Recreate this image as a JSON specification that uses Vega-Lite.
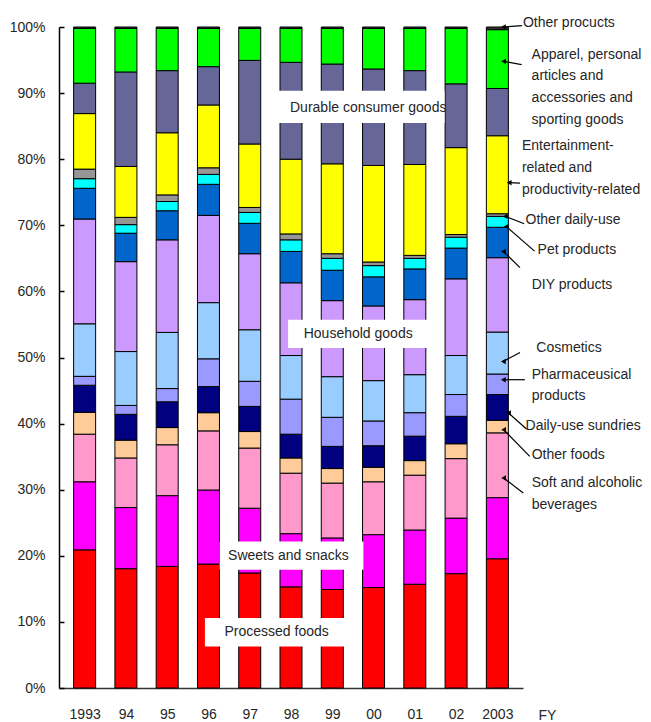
{
  "$schema": "https://vega.github.io/schema/vega-lite/v6.json",
  "width": 464,
  "height": 661,
  "autosize": {"type": "none"},
  "padding": {"left": 59, "top": 27, "right": 128, "bottom": 34},
  "background": "white",
  "config": {"view": {"stroke": null}, "font": "Liberation Sans"},
  "datasets": {
    "categories": [
      {"category":"Processed foods","rank":1},{"category":"Sweets and snacks","rank":2},{"category":"Soft and alcoholic beverages","rank":3},{"category":"Other foods","rank":4},{"category":"Daily-use sundries","rank":5},{"category":"Pharmaceutical products","rank":6},{"category":"Cosmetics","rank":7},{"category":"Household goods","rank":8},{"category":"DIY products","rank":9},{"category":"Pet products","rank":10},{"category":"Other daily-use","rank":11},{"category":"Entertainment- and productivity-related","rank":12},{"category":"Durable consumer goods","rank":13},{"category":"Apparel, personal articles, accessories and sporting goods","rank":14},{"category":"Other products","rank":15}
    ],
    "shares": [
      {"year":1993,"category":"Processed foods","share":20.9},{"year":1993,"category":"Sweets and snacks","share":10.3},{"year":1993,"category":"Soft and alcoholic beverages","share":7.2},{"year":1993,"category":"Other foods","share":3.3},{"year":1993,"category":"Daily-use sundries","share":4.1},{"year":1993,"category":"Pharmaceutical products","share":1.35},{"year":1993,"category":"Cosmetics","share":7.95},{"year":1993,"category":"Household goods","share":15.85},{"year":1993,"category":"DIY products","share":4.65},{"year":1993,"category":"Pet products","share":1.45},{"year":1993,"category":"Other daily-use","share":1.45},{"year":1993,"category":"Entertainment- and productivity-related","share":8.4},{"year":1993,"category":"Durable consumer goods","share":4.6},{"year":1993,"category":"Apparel, personal articles, accessories and sporting goods","share":8.3},{"year":1993,"category":"Other products","share":0.2},
      {"year":1994,"category":"Processed foods","share":18.05},{"year":1994,"category":"Sweets and snacks","share":9.25},{"year":1994,"category":"Soft and alcoholic beverages","share":7.5},{"year":1994,"category":"Other foods","share":2.7},{"year":1994,"category":"Daily-use sundries","share":3.9},{"year":1994,"category":"Pharmaceutical products","share":1.35},{"year":1994,"category":"Cosmetics","share":8.15},{"year":1994,"category":"Household goods","share":13.6},{"year":1994,"category":"DIY products","share":4.3},{"year":1994,"category":"Pet products","share":1.3},{"year":1994,"category":"Other daily-use","share":1.1},{"year":1994,"category":"Entertainment- and productivity-related","share":7.7},{"year":1994,"category":"Durable consumer goods","share":14.3},{"year":1994,"category":"Apparel, personal articles, accessories and sporting goods","share":6.6},{"year":1994,"category":"Other products","share":0.2},
      {"year":1995,"category":"Processed foods","share":18.4},{"year":1995,"category":"Sweets and snacks","share":10.7},{"year":1995,"category":"Soft and alcoholic beverages","share":7.7},{"year":1995,"category":"Other foods","share":2.6},{"year":1995,"category":"Daily-use sundries","share":3.9},{"year":1995,"category":"Pharmaceutical products","share":2.0},{"year":1995,"category":"Cosmetics","share":8.5},{"year":1995,"category":"Household goods","share":14.0},{"year":1995,"category":"DIY products","share":4.4},{"year":1995,"category":"Pet products","share":1.4},{"year":1995,"category":"Other daily-use","share":1.0},{"year":1995,"category":"Entertainment- and productivity-related","share":9.4},{"year":1995,"category":"Durable consumer goods","share":9.4},{"year":1995,"category":"Apparel, personal articles, accessories and sporting goods","share":6.4},{"year":1995,"category":"Other products","share":0.2},
      {"year":1996,"category":"Processed foods","share":18.75},{"year":1996,"category":"Sweets and snacks","share":11.2},{"year":1996,"category":"Soft and alcoholic beverages","share":8.95},{"year":1996,"category":"Other foods","share":2.75},{"year":1996,"category":"Daily-use sundries","share":3.95},{"year":1996,"category":"Pharmaceutical products","share":4.2},{"year":1996,"category":"Cosmetics","share":8.5},{"year":1996,"category":"Household goods","share":13.2},{"year":1996,"category":"DIY products","share":4.7},{"year":1996,"category":"Pet products","share":1.5},{"year":1996,"category":"Other daily-use","share":1.0},{"year":1996,"category":"Entertainment- and productivity-related","share":9.5},{"year":1996,"category":"Durable consumer goods","share":5.8},{"year":1996,"category":"Apparel, personal articles, accessories and sporting goods","share":5.8},{"year":1996,"category":"Other products","share":0.2},
      {"year":1997,"category":"Processed foods","share":17.4},{"year":1997,"category":"Sweets and snacks","share":9.8},{"year":1997,"category":"Soft and alcoholic beverages","share":9.1},{"year":1997,"category":"Other foods","share":2.5},{"year":1997,"category":"Daily-use sundries","share":3.8},{"year":1997,"category":"Pharmaceutical products","share":3.8},{"year":1997,"category":"Cosmetics","share":7.8},{"year":1997,"category":"Household goods","share":11.5},{"year":1997,"category":"DIY products","share":4.6},{"year":1997,"category":"Pet products","share":1.65},{"year":1997,"category":"Other daily-use","share":0.75},{"year":1997,"category":"Entertainment- and productivity-related","share":9.6},{"year":1997,"category":"Durable consumer goods","share":12.65},{"year":1997,"category":"Apparel, personal articles, accessories and sporting goods","share":4.85},{"year":1997,"category":"Other products","share":0.2},
      {"year":1998,"category":"Processed foods","share":15.3},{"year":1998,"category":"Sweets and snacks","share":8.05},{"year":1998,"category":"Soft and alcoholic beverages","share":9.15},{"year":1998,"category":"Other foods","share":2.3},{"year":1998,"category":"Daily-use sundries","share":3.6},{"year":1998,"category":"Pharmaceutical products","share":5.3},{"year":1998,"category":"Cosmetics","share":6.6},{"year":1998,"category":"Household goods","share":11.0},{"year":1998,"category":"DIY products","share":4.75},{"year":1998,"category":"Pet products","share":1.75},{"year":1998,"category":"Other daily-use","share":0.9},{"year":1998,"category":"Entertainment- and productivity-related","share":11.3},{"year":1998,"category":"Durable consumer goods","share":14.65},{"year":1998,"category":"Apparel, personal articles, accessories and sporting goods","share":5.15},{"year":1998,"category":"Other products","share":0.2},
      {"year":1999,"category":"Processed foods","share":14.9},{"year":1999,"category":"Sweets and snacks","share":7.8},{"year":1999,"category":"Soft and alcoholic beverages","share":8.3},{"year":1999,"category":"Other foods","share":2.2},{"year":1999,"category":"Daily-use sundries","share":3.35},{"year":1999,"category":"Pharmaceutical products","share":4.4},{"year":1999,"category":"Cosmetics","share":6.15},{"year":1999,"category":"Household goods","share":11.5},{"year":1999,"category":"DIY products","share":4.6},{"year":1999,"category":"Pet products","share":1.8},{"year":1999,"category":"Other daily-use","share":0.7},{"year":1999,"category":"Entertainment- and productivity-related","share":13.6},{"year":1999,"category":"Durable consumer goods","share":15.1},{"year":1999,"category":"Apparel, personal articles, accessories and sporting goods","share":5.4},{"year":1999,"category":"Other products","share":0.2},
      {"year":2000,"category":"Processed foods","share":15.2},{"year":2000,"category":"Sweets and snacks","share":8.0},{"year":2000,"category":"Soft and alcoholic beverages","share":8.0},{"year":2000,"category":"Other foods","share":2.2},{"year":2000,"category":"Daily-use sundries","share":3.25},{"year":2000,"category":"Pharmaceutical products","share":3.75},{"year":2000,"category":"Cosmetics","share":6.1},{"year":2000,"category":"Household goods","share":11.3},{"year":2000,"category":"DIY products","share":4.4},{"year":2000,"category":"Pet products","share":1.7},{"year":2000,"category":"Other daily-use","share":0.55},{"year":2000,"category":"Entertainment- and productivity-related","share":14.6},{"year":2000,"category":"Durable consumer goods","share":14.6},{"year":2000,"category":"Apparel, personal articles, accessories and sporting goods","share":6.15},{"year":2000,"category":"Other products","share":0.2},
      {"year":2001,"category":"Processed foods","share":15.7},{"year":2001,"category":"Sweets and snacks","share":8.2},{"year":2001,"category":"Soft and alcoholic beverages","share":8.3},{"year":2001,"category":"Other foods","share":2.2},{"year":2001,"category":"Daily-use sundries","share":3.7},{"year":2001,"category":"Pharmaceutical products","share":3.55},{"year":2001,"category":"Cosmetics","share":5.75},{"year":2001,"category":"Household goods","share":11.35},{"year":2001,"category":"DIY products","share":4.65},{"year":2001,"category":"Pet products","share":1.6},{"year":2001,"category":"Other daily-use","share":0.45},{"year":2001,"category":"Entertainment- and productivity-related","share":13.75},{"year":2001,"category":"Durable consumer goods","share":14.2},{"year":2001,"category":"Apparel, personal articles, accessories and sporting goods","share":6.4},{"year":2001,"category":"Other products","share":0.2},
      {"year":2002,"category":"Processed foods","share":17.3},{"year":2002,"category":"Sweets and snacks","share":8.4},{"year":2002,"category":"Soft and alcoholic beverages","share":9.0},{"year":2002,"category":"Other foods","share":2.25},{"year":2002,"category":"Daily-use sundries","share":4.15},{"year":2002,"category":"Pharmaceutical products","share":3.3},{"year":2002,"category":"Cosmetics","share":5.9},{"year":2002,"category":"Household goods","share":11.6},{"year":2002,"category":"DIY products","share":4.65},{"year":2002,"category":"Pet products","share":1.65},{"year":2002,"category":"Other daily-use","share":0.4},{"year":2002,"category":"Entertainment- and productivity-related","share":13.15},{"year":2002,"category":"Durable consumer goods","share":9.65},{"year":2002,"category":"Apparel, personal articles, accessories and sporting goods","share":8.4},{"year":2002,"category":"Other products","share":0.2},
      {"year":2003,"category":"Processed foods","share":19.55},{"year":2003,"category":"Sweets and snacks","share":9.25},{"year":2003,"category":"Soft and alcoholic beverages","share":9.8},{"year":2003,"category":"Other foods","share":1.9},{"year":2003,"category":"Daily-use sundries","share":3.9},{"year":2003,"category":"Pharmaceutical products","share":3.1},{"year":2003,"category":"Cosmetics","share":6.35},{"year":2003,"category":"Household goods","share":11.25},{"year":2003,"category":"DIY products","share":4.6},{"year":2003,"category":"Pet products","share":1.65},{"year":2003,"category":"Other daily-use","share":0.4},{"year":2003,"category":"Entertainment- and productivity-related","share":11.8},{"year":2003,"category":"Durable consumer goods","share":7.15},{"year":2003,"category":"Apparel, personal articles, accessories and sporting goods","share":8.9},{"year":2003,"category":"Other products","share":0.4}
    ],
    "inner": [
      {"label":"Durable consumer goods","tx":1997.976,"ty":87.75,"bx":1997.69,"bx2":2001.72,"by":85.48,"by2":90.35},
      {"label":"Household goods","tx":1998.308,"ty":53.6,"bx":1997.93,"bx2":2001.3,"by":51.44,"by2":55.72},
      {"label":"Sweets and snacks","tx":1996.476,"ty":20.0,"bx":1996.27,"bx2":1999.754,"by":17.9,"by2":22.18},
      {"label":"Processed foods","tx":1996.388,"ty":8.5,"bx":1995.914,"bx2":1999.714,"by":6.29,"by2":10.59}
    ],
    "notes": [
      {"label":"Other procucts","tx":2003.62,"ty":100.65,"ax":2003.595,"ay":100.2,"hx":2003.145,"hy":100.0},
      {"label":"Apparel, personal\narticles and\naccessories and\nsporting goods","tx":2003.83,"ty":95.81,"ax":2003.588,"ay":94.3,"hx":2003.15,"hy":94.8},
      {"label":"Entertainment-\nrelated and\nproductivity-related","tx":2003.595,"ty":81.94,"ax":2003.548,"ay":76.37,"hx":2003.287,"hy":76.45},
      {"label":"Other daily-use","tx":2003.683,"ty":70.85,"ax":2003.65,"ay":70.24,"hx":2003.19,"hy":71.35},
      {"label":"Pet products","tx":2003.974,"ty":66.31,"ax":2003.9,"ay":66.09,"hx":2003.216,"hy":69.83},
      {"label":"DIY products","tx":2003.832,"ty":61.02,"ax":2003.548,"ay":63.59,"hx":2003.145,"hy":66.05},
      {"label":"Cosmetics","tx":2003.944,"ty":51.44,"ax":2003.548,"ay":50.77,"hx":2003.145,"hy":49.41},
      {"label":"Pharmaceusical\nproducts","tx":2003.832,"ty":47.4,"ax":2003.666,"ay":46.64,"hx":2003.145,"hy":46.64},
      {"label":"Daily-use sundries","tx":2003.683,"ty":39.68,"ax":2003.706,"ay":39.18,"hx":2003.27,"hy":41.6},
      {"label":"Other foods","tx":2003.832,"ty":35.3,"ax":2003.785,"ay":35.04,"hx":2003.152,"hy":39.08},
      {"label":"Soft and alcoholic\nbeverages","tx":2003.832,"ty":31.01,"ax":2003.626,"ay":29.5,"hx":2003.152,"hy":31.77}
    ]
  },
  "layer": [
    {
      "data": {"name": "shares"},
      "transform": [
        {"lookup": "category", "from": {"data": {"name": "categories"}, "key": "category", "fields": ["rank"]}}
      ],
      "mark": {"type": "bar", "width": 22, "stroke": "#000000", "strokeWidth": 1},
      "encoding": {
        "x": {
          "field": "year", "type": "quantitative", "title": "FY",
          "scale": {"domain": [1992.5, 2003.5], "nice": false, "zero": false},
          "axis": {
            "values": [1993,1994,1995,1996,1997,1998,1999,2000,2001,2002,2003],
            "format": "d",
            "labelExpr": "datum.value == 1993 || datum.value == 2003 ? datum.label : slice(datum.label, 2)",
            "ticks": false, "grid": false,
            "domainColor": "#333333", "domainWidth": 1.5,
            "labelFont": "Liberation Sans", "labelFontSize": 14, "labelColor": "#262626",
            "labelBaseline": "alphabetic", "labelPadding": 30,
            "labelFlush": false, "labelOverlap": false,
            "title": "FY", "titleX": 479, "titleY": 31, "titleAlign": "left",
            "titleBaseline": "alphabetic", "titleFontWeight": "normal",
            "titleFont": "Liberation Sans", "titleFontSize": 14, "titleColor": "#262626"
          }
        },
        "y": {
          "field": "share", "type": "quantitative", "stack": "zero", "title": null,
          "scale": {"domain": [0, 100], "nice": false},
          "axis": {
            "values": [0,10,20,30,40,50,60,70,80,90,100],
            "labelExpr": "datum.value + '%'",
            "grid": false, "title": null,
            "tickSize": -5, "tickColor": "#000000", "tickWidth": 1.5,
            "domainColor": "#000000", "domainWidth": 1.5,
            "labelPadding": 19, "labelFont": "Liberation Sans", "labelFontSize": 14,
            "labelColor": "#262626", "labelFlush": false, "labelOverlap": false
          }
        },
        "order": {"field": "rank", "type": "quantitative", "sort": "ascending"},
        "color": {
          "field": "category", "type": "nominal",
          "scale": {
            "domain": ["Processed foods","Sweets and snacks","Soft and alcoholic beverages","Other foods","Daily-use sundries","Pharmaceutical products","Cosmetics","Household goods","DIY products","Pet products","Other daily-use","Entertainment- and productivity-related","Durable consumer goods","Apparel, personal articles, accessories and sporting goods","Other products"],
            "range": ["#FF0000","#FF00FF","#FF99CC","#FFCC99","#000080","#9999FF","#99CCFF","#CC99FF","#0066CC","#00FFFF","#969696","#FFFF00","#666699","#00FF00","#333333"]
          },
          "legend": null
        }
      }
    },
    {
      "data": {"name": "inner"},
      "mark": {"type": "rect", "fill": "white", "stroke": null},
      "encoding": {
        "x": {"field": "bx", "type": "quantitative", "title": "FY"},
        "x2": {"field": "bx2"},
        "y": {"field": "by", "type": "quantitative", "title": null},
        "y2": {"field": "by2"}
      }
    },
    {
      "data": {"name": "inner"},
      "mark": {"type": "text", "align": "left", "baseline": "middle", "font": "Liberation Sans", "fontSize": 14, "color": "#262626"},
      "encoding": {
        "x": {"field": "tx", "type": "quantitative", "title": "FY"},
        "y": {"field": "ty", "type": "quantitative", "title": null},
        "text": {"field": "label"}
      }
    },
    {
      "data": {"name": "notes"},
      "mark": {"type": "rule", "color": "#000000", "strokeWidth": 1.2},
      "encoding": {
        "x": {"field": "ax", "type": "quantitative", "title": "FY"},
        "x2": {"field": "hx"},
        "y": {"field": "ay", "type": "quantitative", "title": null},
        "y2": {"field": "hy"}
      }
    },
    {
      "data": {"name": "notes"},
      "mark": {"type": "point", "shape": "triangle-left", "filled": true, "size": 30, "color": "#000000", "opacity": 1},
      "encoding": {
        "x": {"field": "hx", "type": "quantitative", "title": "FY"},
        "y": {"field": "hy", "type": "quantitative", "title": null}
      }
    },
    {
      "data": {"name": "notes"},
      "mark": {"type": "text", "align": "left", "baseline": "middle", "font": "Liberation Sans", "fontSize": 14, "color": "#262626", "lineBreak": "\n", "lineHeight": 21.7},
      "encoding": {
        "x": {"field": "tx", "type": "quantitative", "title": "FY"},
        "y": {"field": "ty", "type": "quantitative", "title": null},
        "text": {"field": "label"}
      }
    }
  ]
}
